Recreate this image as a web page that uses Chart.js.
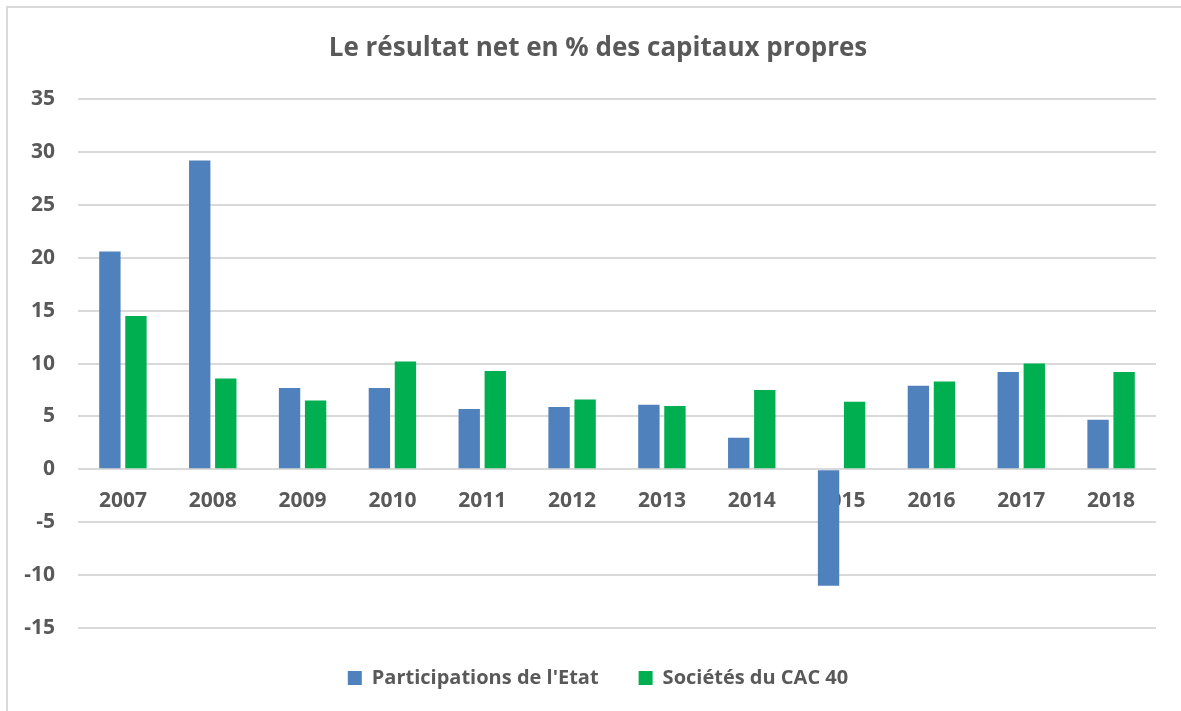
<!DOCTYPE html>
<html>
<head>
<meta charset="utf-8">
<script src="https://cdn.jsdelivr.net/npm/chart.js@4.4.1/dist/chart.umd.min.js"></script>
<style>
  html, body { margin: 0; padding: 0; background: #ffffff; }
  body { width: 1181px; height: 711px; position: relative; overflow: hidden; }
  #frame { position: absolute; left: 6px; top: 6px; width: 1300px; height: 900px;
           border-top: 2px solid #d9d9d9; border-left: 2px solid #d9d9d9; box-sizing: border-box; }
  #wrap { position: absolute; left: 0; top: 0; width: 1181px; height: 711px; }
</style>
</head>
<body>
<div id="frame"></div>
<div id="wrap"><canvas id="c" width="1181" height="711"></canvas></div>
<script>
const title = "Le résultat net en % des capitaux propres";
const years = ["2007","2008","2009","2010","2011","2012","2013","2014","2015","2016","2017","2018"];
const seriesNames = ["Participations de l'Etat", "Sociétés du CAC 40"];
const participationsEtat = [20.6, 29.2, 7.7, 7.7, 5.7, 5.9, 6.1, 3.0, -11.0, 7.9, 9.2, 4.7];
const societesCAC40 = [14.5, 8.6, 6.5, 10.2, 9.3, 6.6, 6.0, 7.5, 6.4, 8.3, 10.0, 9.2];
const yMin = -15, yMax = 35, yStep = 5;

const textColor = "#595959";
const fontFamily = "'Open Sans', Lato, sans-serif";

new Chart(document.getElementById("c"), {
  type: "bar",
  data: {
    labels: years,
    datasets: [
      { label: seriesNames[0], data: participationsEtat, backgroundColor: "#4F81BD",
        categoryPercentage: 0.58, barPercentage: 0.82, yAxisID: "y" },
      { label: seriesNames[1], data: societesCAC40, backgroundColor: "#00B050",
        categoryPercentage: 0.58, barPercentage: 0.82, yAxisID: "y" }
    ]
  },
  options: {
    responsive: false,
    animation: false,
    devicePixelRatio: 1,
    layout: { padding: { left: 18, right: 3, top: 0, bottom: 13 } },
    plugins: {
      title: {
        display: true, text: title, color: textColor,
        font: { family: fontFamily, size: 26, weight: "bold" },
        padding: { top: 33, bottom: 35 }
      },
      legend: {
        position: "bottom",
        labels: {
          color: textColor, boxWidth: 14, boxHeight: 14, padding: 40,
          font: { family: fontFamily, size: 20, weight: "bold" }
        }
      },
      tooltip: { enabled: false }
    },
    scales: {
      x: {
        position: { y: 0 },
        z: 1,
        grid: { display: false, drawTicks: false },
        border: { display: false },
        ticks: { color: textColor, padding: 19, font: { family: fontFamily, size: 21, weight: "bold" } },
        afterFit: (s) => { s.paddingLeft = 0; s.paddingRight = 0; }
      },
      y: {
        position: "left",
        min: yMin, max: yMax,
        grid: { color: "#d9d9d9", lineWidth: 2, drawTicks: false },
        border: { display: false },
        ticks: { stepSize: yStep, color: textColor, padding: 23,
                 font: { family: fontFamily, size: 21, weight: "bold" } },
        afterFit: (s) => { s.width = 60; }
      },
      yRightMargin: {
        position: "right",
        grid: { display: false, drawTicks: false },
        border: { display: false },
        ticks: { display: false },
        afterFit: (s) => { s.width = 22; }
      }
    }
  }
});
</script>
</body>
</html>
